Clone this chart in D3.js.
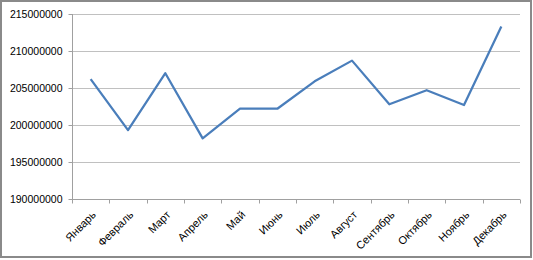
<!DOCTYPE html>
<html>
<head>
<meta charset="utf-8">
<script src="https://cdn.jsdelivr.net/npm/d3@7"></script>
<style>
  body { margin: 0; background: #fff; }
  text { font-family: "Liberation Sans", Arial, sans-serif; fill: #000; }
</style>
</head>
<body>
<svg id="chart" width="533" height="260"></svg>
<script>
// данные
const months = ["Январь", "Февраль", "Март", "Апрель", "Май", "Июнь",
  "Июль", "Август", "Сентябрь", "Октябрь", "Ноябрь", "Декабрь"];
const values = [206200000, 199300000, 207000000, 198200000, 202200000, 202200000,
  205900000, 208700000, 202800000, 204700000, 202700000, 213300000];
const yTicks = [190000000, 195000000, 200000000, 205000000, 210000000, 215000000];

const svg = d3.select("#chart");
const plot = { left: 72, right: 520, top: 14, bottom: 199 };

// рамка
svg.append("rect")
  .attr("x", 1).attr("y", 1)
  .attr("width", 530).attr("height", 256)
  .attr("fill", "#fff")
  .attr("stroke", "#8a8a8a")
  .attr("stroke-width", 2);

const x = d3.scaleBand().domain(months).range([plot.left, plot.right]);
const y = d3.scaleLinear().domain([190000000, 215000000]).range([plot.bottom, plot.top]);
const py = d => Math.round(y(d)) + 0.5;

// сетка
svg.append("g")
  .selectAll("line")
  .data(yTicks.slice(1))
  .join("line")
  .attr("x1", plot.left).attr("x2", plot.right)
  .attr("y1", py).attr("y2", py)
  .attr("stroke", "#c0c0c0");

// ось Y
const yAxis = svg.append("g")
  .attr("transform", `translate(${plot.left + 0.5},0)`)
  .call(d3.axisLeft(y).tickValues(yTicks).tickSize(4).tickPadding(6)
    .tickFormat(d3.format("d")));
yAxis.selectAll(".tick").attr("transform", d => `translate(0,${py(d)})`);
yAxis.selectAll("line").attr("stroke", "#a0a0a0");
yAxis.select(".domain").attr("d", `M0,${plot.top}V${plot.bottom + 0.5}`).attr("stroke", "#a0a0a0");
yAxis.selectAll("text").attr("font-size", "10.5px")
  .attr("font-family", "'Liberation Sans', Arial, sans-serif")
  .attr("fill", "#000");

// ось X
const xg = svg.append("g").attr("transform", `translate(0,${plot.bottom + 0.5})`);
xg.append("line")
  .attr("x1", plot.left).attr("x2", plot.right)
  .attr("stroke", "#a0a0a0");
xg.selectAll("line.tk")
  .data(d3.range(months.length + 1))
  .join("line")
  .attr("class", "tk")
  .attr("x1", i => Math.round(plot.left + i * x.step()) + 0.5)
  .attr("x2", i => Math.round(plot.left + i * x.step()) + 0.5)
  .attr("y1", 0).attr("y2", 4)
  .attr("stroke", "#a0a0a0");
xg.selectAll("text")
  .data(months)
  .join("text")
  .attr("text-anchor", "end")
  .attr("font-size", "11px")
  .attr("transform", d => `translate(${x(d) + x.bandwidth() / 2 + 6},16) rotate(-45)`)
  .text(d => d);

// линия
const line = d3.line()
  .x((d, i) => x(months[i]) + x.bandwidth() / 2)
  .y(d => y(d));

svg.append("path")
  .datum(values)
  .attr("d", line)
  .attr("fill", "none")
  .attr("stroke", "#4a7ebb")
  .attr("stroke-width", 2.25)
  .attr("stroke-linejoin", "round");
</script>
</body>
</html>
